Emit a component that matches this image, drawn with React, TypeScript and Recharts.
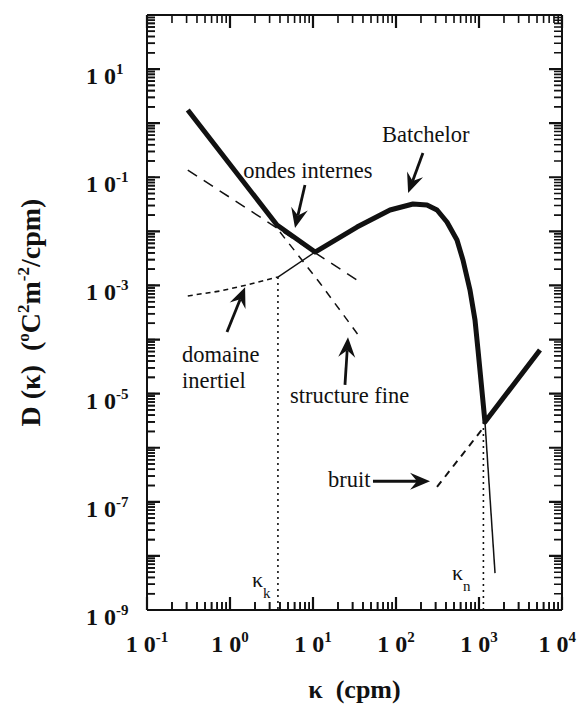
import React from "react";
import {
  LineChart, Line, XAxis, YAxis, ReferenceLine, ReferenceDot,
} from "recharts";

// main spectrum (thick): Batchelor peak then noise rise
const thickK = [0.31, 3.68, 10.6, 33.9, 84.7, 160, 236, 312, 411, 543, 641, 779, 895, 973, 1180, 5430];
const thickD = [1.75, 0.0131, 0.00415, 0.012, 0.0248, 0.0321, 0.0307, 0.0248, 0.0149, 0.00692, 0.00295, 8.2e-4, 2.3e-4, 6.4e-5, 3.0e-6, 6.4e-5];

// thin tail below the noise floor
const tailK = [1180, 1560];
const tailD = [3.0e-6, 4.8e-9];

// domaine inertiel (dashed, then thin solid)
const inertK = [0.31, 0.76, 1.6, 3.78];
const inertD = [6.4e-4, 7.9e-4, 1.02e-3, 1.43e-3];
const inertSolidK = [3.78, 10.6];
const inertSolidD = [1.43e-3, 4.15e-3];

// ondes internes (long dashes)
const wavesK = [0.31, 33.9];
const wavesD = [0.136, 1.26e-3];

// structure fine
const fineK = [4.0, 7.36, 12.1, 21.1, 36.8];
const fineD = [0.0097, 0.00295, 0.00111, 3.5e-4, 1.1e-4];

// bruit
const noiseK = [312, 1117];
const noiseD = [1.88e-7, 2.3e-6];

// kappa_k and kappa_n markers
const kappaK = [3.78, 3.78];
const kappaKD = [1.43e-3, 1e-9];
const kappaN = [1130, 1130];
const kappaND = [3.0e-6, 1e-9];

const xDecades = [0.1, 1, 10, 100, 1000, 10000];
const yDecades = [1e-9, 1e-8, 1e-7, 1e-6, 1e-5, 1e-4, 1e-3, 1e-2, 1e-1, 1, 10, 100];
const yLabelExps = [1, -1, -3, -5, -7, -9];
const minorSteps = [2, 3, 4, 5, 6, 7, 8, 9];

const noteText = ["ondes internes", "Batchelor", "domaine", "inertiel", "structure fine", "bruit"];
const noteK = [1.44, 67.8, 0.264, 0.264, 5.28, 15.2];
const noteD = [0.097, 0.449, 3.85e-5, 1.27e-5, 6.7e-6, 1.88e-7];

const kappaText = ["k", "n"];
const kappaTextK = [1.84, 473];
const kappaTextD = [2.7e-9, 3.6e-9];

// arrows: tail -> tip
const arrowFromK = [8.0, 211, 0.92, 24.3, 52.8];
const arrowFromD = [0.072, 0.28, 1.38e-4, 1.45e-5, 2.4e-7];
const arrowToK = [6.07, 140, 1.52, 26.4, 257];
const arrowToD = [0.0115, 0.051, 9.3e-4, 1.1e-4, 2.4e-7];

const zip = (k: number[], d: number[]) => k.map((v, i) => ({ k: v, d: d[i] }));

// minor tick values between consecutive decades
const minorsOf = (decades: number[]) =>
  decades.slice(0, -1).flatMap((dec) => minorSteps.map((m) => Number((dec * m).toPrecision(3))));

const xMinor = minorsOf(xDecades);
const yMinor = minorsOf(yDecades);
const xAll = [...xDecades, ...xMinor];
const yAll = [...yDecades, ...yMinor];

const SERIF = "'Liberation Serif', 'Times New Roman', serif";
const INK = "#111";
const innerTick = { stroke: INK, strokeWidth: 1.6 };

function TickLabel(props: any) {
  const { x, y, payload, side } = props;
  const v = payload?.value ?? 1;
  const lg = Math.log10(v);
  const exp = Math.round(lg);
  if (Math.abs(lg - exp) > 1e-6) return <g />;
  if (side === "bottom") {
    const last = v === xDecades[xDecades.length - 1];
    return (
      <text x={last ? x + 14 : x} y={y + 42} textAnchor={last ? "end" : "middle"}
        fontFamily={SERIF} fontWeight="bold" fontSize={24} fill={INK}>
        1 0<tspan dy={-10} fontSize={15}>{exp}</tspan>
      </text>
    );
  }
  if (!yLabelExps.includes(exp)) return <g />;
  return (
    <text x={x - 61} y={y + 15} textAnchor="start" fontFamily={SERIF} fontWeight="bold" fontSize={24} fill={INK}>
      1 0<tspan dy={-10} fontSize={15}>{exp}</tspan>
    </text>
  );
}

// short inward marks on both opposite sides of the frame
function FrameMarks(props: any) {
  const { x1, y1, x2, y2, len, width, vertical } = props;
  if (![x1, y1, x2, y2].every((n) => Number.isFinite(n))) return null;
  if (vertical) {
    const top = Math.min(y1, y2);
    const bot = Math.max(y1, y2);
    return (
      <path d={`M${x1},${bot}V${bot - len}M${x1},${top}V${top + len}`} stroke={INK} strokeWidth={width} fill="none" />
    );
  }
  const lft = Math.min(x1, x2);
  const rgt = Math.max(x1, x2);
  return (
    <path d={`M${lft},${y1}H${lft + len}M${rgt},${y1}H${rgt - len}`} stroke={INK} strokeWidth={width} fill="none" />
  );
}

function YTitle(props: any) {
  const vb = props.viewBox || { x: 87, y: 15, width: 60, height: 595 };
  const cx = vb.x - 47;
  const cy = vb.y + vb.height / 2;
  return (
    <text
      x={cx} y={cy} transform={`rotate(-90, ${cx}, ${cy})`} textAnchor="middle"
      fontFamily={SERIF} fontWeight="bold" fontSize={28} fill={INK} style={{ whiteSpace: "pre" }}
    >
      {"D (\u03ba)  ("}
      <tspan dy={-11} fontSize={17}>o</tspan>
      <tspan dy={11}>C</tspan>
      <tspan dy={-11} fontSize={17}>2</tspan>
      <tspan dy={11}>m</tspan>
      <tspan dy={-11} fontSize={17}>-2</tspan>
      <tspan dy={11}>/cpm)</tspan>
    </text>
  );
}

function XTitle(props: any) {
  const vb = props.viewBox || { x: 147, y: 610, width: 415, height: 30 };
  return (
    <text
      x={vb.x + vb.width / 2} y={vb.y + 88} textAnchor="middle"
      fontFamily={SERIF} fontWeight="bold" fontSize={26} fill={INK} style={{ whiteSpace: "pre" }}
    >
      {"\u03ba  (cpm)"}
    </text>
  );
}

function Arrow(props: any) {
  const { x1, y1, x2, y2 } = props;
  if (![x1, y1, x2, y2].every((n) => Number.isFinite(n))) return null;
  const dx = x2 - x1;
  const dy = y2 - y1;
  const len = Math.hypot(dx, dy) || 1;
  const ux = dx / len;
  const uy = dy / len;
  const nx = -uy;
  const ny = ux;
  const L = 20, W = 8.5, N = 7;
  const bx = x2 - ux * L;
  const by = y2 - uy * L;
  const nkx = x2 - ux * (L - N);
  const nky = y2 - uy * (L - N);
  const pts = [
    [x2, y2], [bx + nx * W, by + ny * W], [nkx, nky], [bx - nx * W, by - ny * W],
  ].map((p) => p.join(",")).join(" ");
  return (
    <g>
      <line x1={x1} y1={y1} x2={nkx} y2={nky} stroke={INK} strokeWidth={2.8} />
      <polygon points={pts} fill={INK} />
    </g>
  );
}

const axisIds = { xAxisId: "b", yAxisId: "l" };
const lineBase = { ...axisIds, dataKey: "d", stroke: INK, dot: false, activeDot: false, isAnimationActive: false };

export default function App() {
  return (
    <div style={{ position: "absolute", left: 0, top: 0, background: "#fff" }}>
      <LineChart width={579} height={714} margin={{ top: 5, right: 7, bottom: 74, left: 87 }}>
        <XAxis
          xAxisId="b" dataKey="k" type="number" scale="log" domain={[0.1, 10000]} allowDataOverflow
          ticks={xAll} interval={0} height={30} tickSize={-8} tickMargin={8} tickLine={innerTick}
          axisLine={{ stroke: INK, strokeWidth: 2 }}
          tick={(p: any) => <TickLabel {...p} side="bottom" />}
          label={<XTitle />}
        />
        <XAxis
          xAxisId="t" orientation="top" dataKey="k" type="number" scale="log" domain={[0.1, 10000]} allowDataOverflow
          ticks={xAll} interval={0} height={10} tickSize={-8} tickMargin={8} tickLine={innerTick}
          tick={false} axisLine={{ stroke: INK, strokeWidth: 2 }}
        />
        <YAxis
          yAxisId="l" type="number" scale="log" domain={[1e-9, 100]} allowDataOverflow
          ticks={yAll} interval={0} width={60} tickSize={-8} tickMargin={8} tickLine={innerTick}
          axisLine={{ stroke: INK, strokeWidth: 2 }}
          tick={(p: any) => <TickLabel {...p} side="left" />}
          label={<YTitle />}
        />
        <YAxis
          yAxisId="r" orientation="right" type="number" scale="log" domain={[1e-9, 100]} allowDataOverflow
          ticks={yAll} interval={0} width={10} tickSize={-8} tickMargin={8} tickLine={innerTick}
          tick={false} axisLine={{ stroke: INK, strokeWidth: 2 }}
        />

        {xDecades.map((v) => (
          <ReferenceLine key={`xM${v}`} {...axisIds} x={v} ifOverflow="visible"
            shape={(p: any) => <FrameMarks {...p} len={13} width={2.2} vertical />} />
        ))}
        {xMinor.map((v) => (
          <ReferenceLine key={`xm${v}`} {...axisIds} x={v} ifOverflow="visible"
            shape={(p: any) => <FrameMarks {...p} len={8} width={1.6} vertical />} />
        ))}
        {yDecades.map((v) => (
          <ReferenceLine key={`yM${v}`} {...axisIds} y={v} ifOverflow="visible"
            shape={(p: any) => <FrameMarks {...p} len={13} width={2.2} />} />
        ))}
        {yMinor.map((v) => (
          <ReferenceLine key={`ym${v}`} {...axisIds} y={v} ifOverflow="visible"
            shape={(p: any) => <FrameMarks {...p} len={8} width={1.6} />} />
        ))}

        <Line {...lineBase} data={zip(kappaK, kappaKD)} strokeWidth={1.6} strokeDasharray="2 4" />
        <Line {...lineBase} data={zip(kappaN, kappaND)} strokeWidth={1.6} strokeDasharray="2 4" />
        <Line {...lineBase} data={zip(wavesK, wavesD)} strokeWidth={1.5} strokeDasharray="11 8" />
        <Line {...lineBase} data={zip(fineK, fineD)} strokeWidth={1.5} strokeDasharray="8 7" />
        <Line {...lineBase} data={zip(inertK, inertD)} strokeWidth={1.6} strokeDasharray="5 4" />
        <Line {...lineBase} data={zip(inertSolidK, inertSolidD)} strokeWidth={1.4} />
        <Line {...lineBase} data={zip(noiseK, noiseD)} strokeWidth={2} strokeDasharray="7 6" />
        <Line {...lineBase} data={zip(tailK, tailD)} strokeWidth={1.5} />
        <Line {...lineBase} data={zip(thickK, thickD)} strokeWidth={5} strokeLinejoin="round" />

        {arrowFromK.map((k, i) => (
          <ReferenceLine
            key={`a${i}`} {...axisIds} ifOverflow="visible"
            segment={[{ x: k, y: arrowFromD[i] }, { x: arrowToK[i], y: arrowToD[i] }]}
            shape={(p: any) => <Arrow {...p} />}
          />
        ))}

        {noteText.map((t, i) => (
          <ReferenceDot
            key={`n${i}`} {...axisIds} x={noteK[i]} y={noteD[i]} r={0} ifOverflow="visible"
            shape={(p: any) => (
              <text x={p.cx} y={p.cy} fontFamily={SERIF} style={{ fontFamily: SERIF }} fontSize={22.5} fill={INK}>{t}</text>
            )}
          />
        ))}

        {kappaText.map((t, i) => (
          <ReferenceDot
            key={`k${i}`} {...axisIds} x={kappaTextK[i]} y={kappaTextD[i]} r={0} ifOverflow="visible"
            shape={(p: any) => (
              <text x={p.cx} y={p.cy} fontFamily={SERIF} style={{ fontFamily: SERIF }} fontSize={22} fill={INK}>
                {"\u03ba"}<tspan dy={11} fontSize={15}>{t}</tspan>
              </text>
            )}
          />
        ))}
      </LineChart>
    </div>
  );
}
